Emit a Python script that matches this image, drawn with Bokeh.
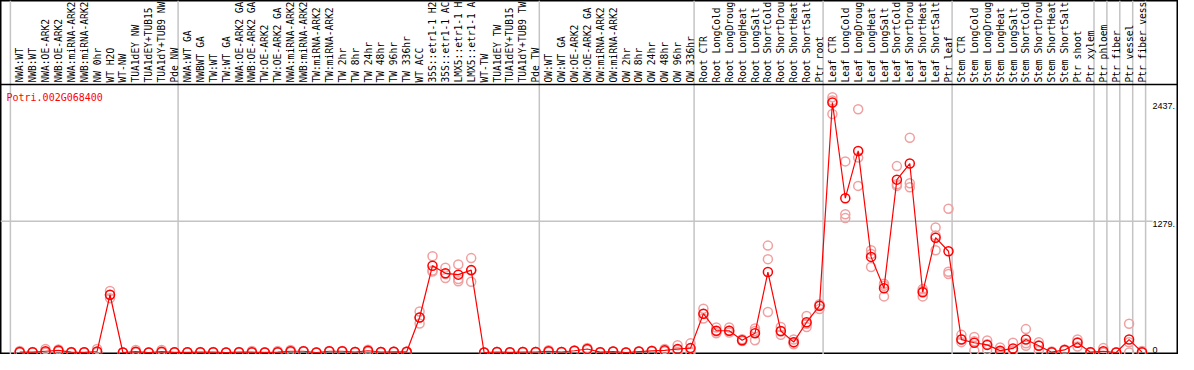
import math
from bokeh.plotting import figure
from bokeh.models import Range1d, Span
from bokeh.core.properties import value
from bokeh.embed import file_html
from bokeh.resources import INLINE

# ---------------- data ----------------
gene = "Potri.002G068400"

labels = [
    "NWA:WT", "NWB:WT", "NWA:OE-ARK2", "NWB:OE-ARK2", "NWA:miRNA-ARK2", "NWB:miRNA-ARK2",
    "NW 0hr", "WT H2O", "WT-NW", "TUA1dEY NW", "TUA1dEY+TUB15", "TUA1dY+TUB9 NW", "Pde NW",
    "NWA:WT GA", "NWBWT GA", "TW:WT", "TW:WT GA", "NWA:OE-ARK2 GA", "NWB:OE-ARK2 GA",
    "TW:OE-ARK2", "TW:OE-ARK2 GA", "NWA:miRNA-ARK2", "NWB:miRNA-ARK2", "TW:miRNA-ARK2",
    "TW:miRNA-ARK2", "TW 2hr", "TW 8hr", "TW 24hr", "TW 48hr", "TW 96hr", "TW 336hr",
    "WT ACC", "35S::etr1-1 H2", "35S::etr1-1 AC", "LMX5::etr1-1 H", "LMX5::etr1-1 A",
    "WT-TW", "TUA1dEY TW", "TUA1dEY+TUB15", "TUA1dY+TUB9 TW", "Pde TW",
    "OW:WT", "OW:WT GA", "OW:OE-ARK2", "OW:OE-ARK2 GA", "OW:miRNA-ARK2", "OW:miRNA-ARK2",
    "OW 2hr", "OW 8hr", "OW 24hr", "OW 48hr", "OW 96hr", "OW 336hr",
    "Root CTR", "Root LongCold", "Root LongDroug", "Root LongHeat", "Root LongSalt",
    "Root ShortCold", "Root ShortDrou", "Root ShortHeat", "Root ShortSalt", "Ptr root",
    "Leaf CTR", "Leaf LongCold", "Leaf LongDroug", "Leaf LongHeat", "Leaf LongSalt",
    "Leaf ShortCold", "Leaf ShortDrou", "Leaf ShortHeat", "Leaf ShortSalt", "Ptr leaf",
    "Stem CTR", "Stem LongCold", "Stem LongDroug", "Stem LongHeat", "Stem LongSalt",
    "Stem ShortCold", "Stem ShortDrou", "Stem ShortHeat", "Stem ShortSalt", "Ptr shoot",
    "Ptr xylem", "Ptr phloem", "Ptr fiber", "Ptr vessel", "Ptr fiber vess",
]

# index of the first category of each group (plus the end)
group_starts = [0, 13, 41, 53, 63, 73, 84, 85, 86, 87, 88]

means = [
    5, 3, 12, 20, 3, 2, 10, 563, 0, 8, 0, 8, 2,
    2, 3, 3, 0, 3, 3, 1, 3, 12, 12, 0, 12, 12, 5, 17, 5, 7, 7,
    341, 846, 772, 759, 803, 0, 5, 2, 5, 5,
    12, 5, 17, 34, 3, 9, 0, 9, 15, 21, 34, 43,
    378, 212, 212, 120, 188, 784, 209, 101, 295, 455,
    2437, 1504, 1965, 932, 627, 1685, 1842, 587, 1119, 987,
    126, 95, 74, 18, 40, 126, 65, 3, 25, 95, 3,
    12, 0, 126, 3,
]

rep1 = [
    15, 5, 34, 30, 5, 3, 35, 600, 0, 25, 0, 25, 3,
    3, 4, 4, 1, 4, 15, 2, 15, 25, 15, 0, 15, 15, 6, 28, 6, 8, 8,
    400, 938, 827, 858, 920, 0, 6, 3, 6, 6,
    22, 6, 20, 45, 4, 10, 0, 10, 18, 34, 71, 89,
    427, 243, 243, 130, 234, 1042, 249, 126, 357, 470,
    2488, 1863, 2371, 996, 670, 1817, 2094, 618, 1218, 1402,
    172, 151, 117, 49, 95, 228, 101, 10, 30, 126, 5,
    43, 2, 280, 15,
]

rep2 = [
    2, 2, 3, 20, 3, 2, 5, 560, 0, 2, 0, 2, 2,
    2, 3, 3, 0, 3, 2, 1, 2, 12, 12, 0, 12, 12, 5, 15, 5, 7, 7,
    340, 800, 765, 717, 800, 0, 5, 2, 5, 5,
    10, 5, 17, 30, 3, 9, 0, 9, 15, 18, 25, 40,
    375, 205, 212, 118, 210, 910, 205, 97, 280, 455,
    2457, 1347, 1900, 960, 650, 1640, 1611, 600, 1140, 787,
    130, 110, 80, 10, 20, 90, 70, 2, 25, 100, 3,
    0, 0, 100, 0,
]

rep3 = [
    0, 2, 0, 10, 1, 1, 2, 530, 0, 0, 0, 0, 1,
    1, 2, 2, 0, 2, 0, 0, 0, 5, 9, 0, 9, 9, 4, 8, 4, 6, 6,
    283, 790, 726, 695, 689, 0, 4, 1, 4, 4,
    5, 4, 14, 27, 2, 8, 0, 8, 12, 12, 6, 0,
    332, 188, 195, 112, 120, 394, 172, 80, 249, 424,
    2325, 1310, 1624, 833, 547, 1624, 1650, 547, 996, 766,
    101, 18, 28, 0, 12, 65, 18, 0, 20, 58, 1,
    0, 0, 0, 0,
]

y_ticks = [2437, 1279, 0]
y_tick_labels = ["2437.", "1279.", "0"]
grid_value = 1279

# ---------------- layout ----------------
FIG_W, FIG_H = 1178, 354
CAT0_PX = 19.2           # x pixel of first category centre
CAT_W = 12.9             # pixels per category
BOUND_OFF_PX = 9.3       # group boundary lies this far left of a centre
ZERO_PX = 352            # pixel (from top) of value 0
PX_PER_VAL = 250 / 2437  # pixels per expression unit

x_start = -CAT0_PX / CAT_W
x_end = x_start + FIG_W / CAT_W
y_start = (ZERO_PX - FIG_H) / PX_PER_VAL
y_end = ZERO_PX / PX_PER_VAL


def val_at(px):
    return (ZERO_PX - px) / PX_PER_VAL


def x_at(px):
    return (px - CAT0_PX) / CAT_W


SEP_PX = 84
LABEL_PX = 82
END_PX = CAT0_PX - BOUND_OFF_PX + CAT_W * len(labels)

RED = "#ff0000"
PINK = "#f0a0a0"
GRAY = "#c4c4c4"
MONO = "DejaVu Sans Mono"

p = figure(width=FIG_W, height=FIG_H, x_range=Range1d(x_start, x_end),
           y_range=Range1d(y_start, y_end), output_backend="svg",
           toolbar_location=None, x_axis_type=None, y_axis_type=None,
           title=None, min_border=0)
p.grid.visible = False
p.outline_line_color = "black"
p.outline_line_width = 2
p.background_fill_color = "white"
p.border_fill_color = "white"

# group boundaries (vertical gray lines)
for k in group_starts:
    p.add_layout(Span(location=k - BOUND_OFF_PX / CAT_W, dimension="height",
                      line_color=GRAY, line_width=1.5, level="underlay"))

# horizontal grid line at the mid value
p.segment(x0=[x_start], x1=[x_at(END_PX + 7)], y0=[grid_value], y1=[grid_value],
          line_color=GRAY, line_width=1.5)

# separator between label area and plot
p.add_layout(Span(location=val_at(SEP_PX), dimension="width",
                  line_color="black", line_width=1.5))

idx = list(range(len(labels)))

# category labels (rotated)
p.text(x=idx, y=[val_at(LABEL_PX)] * len(labels), text=labels, angle=math.pi / 2,
       text_font=value(MONO), text_font_size="9.6px", text_align="left",
       text_baseline="middle", text_color="black")

# replicates
rx = idx * 3
ry = rep1 + rep2 + rep3
p.scatter(x=rx, y=ry, marker="circle", size=9, fill_color=None,
          line_color=PINK, line_width=1.5)

# mean line and points
p.line(x=idx, y=means, line_color=RED, line_width=1.2)
p.scatter(x=idx, y=means, marker="circle", size=9, fill_color=None,
          line_color=RED, line_width=1.5)

# gene name
p.text(x=[x_at(6)], y=[val_at(97)], text=[gene], text_font=value(MONO),
       text_font_size="10px", text_color=RED, text_align="left",
       text_baseline="middle")

# value labels on the right
for v, s in zip(y_ticks, y_tick_labels):
    p.text(x=[x_at(END_PX + 7)], y=[v], text=[s], text_font=value("Liberation Sans"),
           text_font_size="9px", text_color="black", text_align="left",
           text_baseline="bottom" if v == 0 else "top")

open("out.html", "w").write(file_html(p, INLINE))
